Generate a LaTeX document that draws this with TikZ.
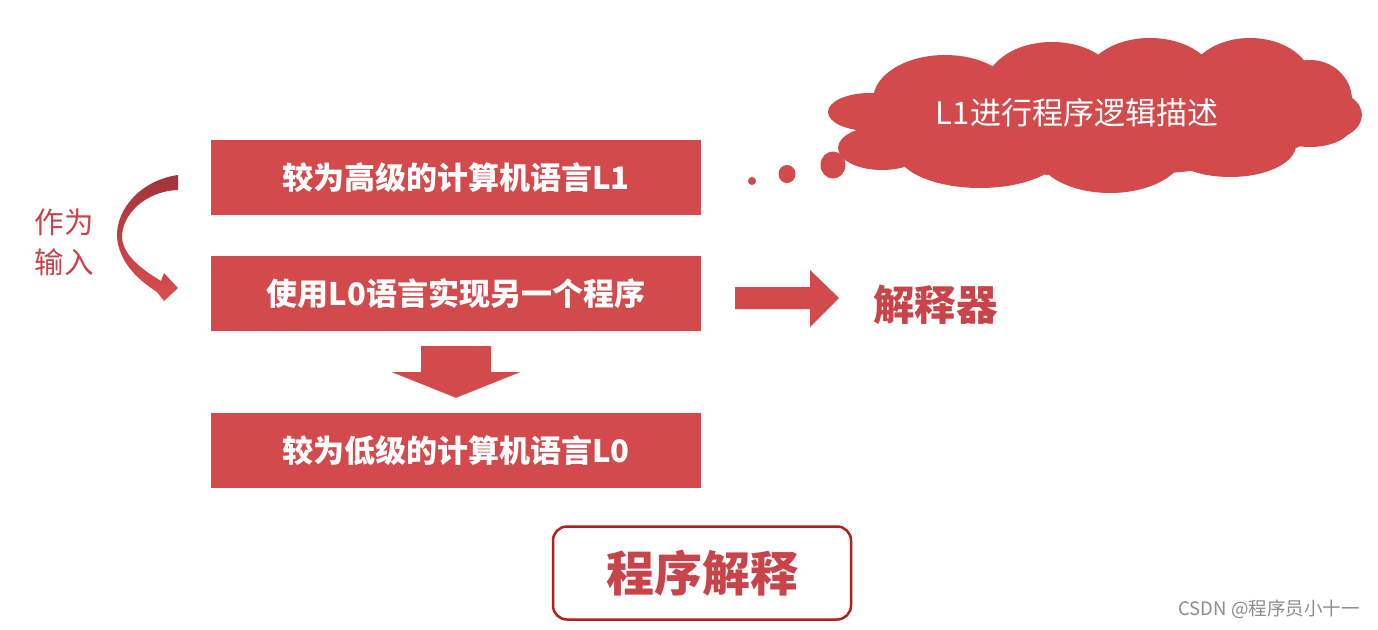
\documentclass[tikz,border=0pt]{standalone}
\usepackage{fontspec}
\setmainfont{Noto Sans CJK SC}
\usetikzlibrary{calc}
\definecolor{boxred}{HTML}{D34A4C}
\definecolor{txtred}{HTML}{C9444A}
\definecolor{darkred}{HTML}{B0201F}
\definecolor{arrdark}{HTML}{A3333A}
\definecolor{arrlight}{HTML}{DA4D50}
\tikzset{
  box/.style={fill=boxred, minimum width=490, minimum height=75, inner sep=0, text=white, font=\fontsize{31}{35}\selectfont\bfseries},
  blockarrow/.style={fill=boxred, draw=none},
  dot/.style={fill=boxred, draw=none},
}
\begin{document}
\begin{tikzpicture}[x=1pt,y=-1pt]
\useasboundingbox (0,0) rectangle (1378,629);
\fill[white] (0,0) rectangle (1378,629);
% boxes
\node[box] (b1) at (456,177.5) {较为高级的计算机语言L1};
\node[box] (b2) at (456,293.5) {使用L0语言实现另一个程序};
\node[box] (b3) at (456,450.5) {较为低级的计算机语言L0};
% down block arrow
\coordinate (dtop) at ($(b2.south)+(0,15)$);
\coordinate (dtip) at ($(b3.north)+(0,-15)$);
\fill[blockarrow] ($(dtop)+(-35,0)$) -- ($(dtop)+(35,0)$) -- ($(dtop)+(35,26)$) -- ($(dtop)+(64,26)$)
  -- (dtip) -- ($(dtop)+(-64,26)$) -- ($(dtop)+(-35,26)$) -- cycle;
% right block arrow
\node[text=txtred, font=\fontsize{41.5}{45}\selectfont\bfseries, inner sep=0] (interp) at (935.5,305) {解释器};
\coordinate (rstart) at (735,298);
\coordinate (rtip) at (839,298);
\fill[blockarrow] ($(rstart)+(0,-11)$) -- ($(rstart)+(75,-11)$) -- ($(rstart)+(75,-28)$) -- (rtip)
  -- ($(rstart)+(75,29)$) -- ($(rstart)+(75,11)$) -- ($(rstart)+(0,11)$) -- cycle;
% cloud (union of ellipses)
\fill[boxred]
  (1095,118) ellipse (235 and 58)
  (945,100) ellipse (72 and 45)
  (1052,86) ellipse (66 and 44)
  (1150,82) ellipse (66 and 44)
  (1250,82) ellipse (62 and 44)
  (1310,100) ellipse (42 and 40)
  (1322,115) ellipse (40 and 26)
  (1310,125) ellipse (42 and 22)
  (1230,145) ellipse (66 and 32)
  (1110,150) ellipse (75 and 43)
  (980,150) ellipse (84 and 38)
  (882,148) ellipse (44 and 22)
  (870,112) ellipse (42 and 19);
\node[text=white, font=\fontsize{31}{35}\selectfont, inner sep=0] (ctext) at (1077,113) {L1进行程序逻辑描述};
\fill[dot] (752,181) circle (4);
\fill[dot] (787,174) ellipse (8.5 and 9);
\fill[dot] (833,165) ellipse (12.5 and 13.5);
% left curved arrow
\node[text=txtred, font=\fontsize{29.5}{40}\selectfont, align=center, inner sep=0] (input) at (64,242) {作为\\输入};
\coordinate (cs) at (178,175);
\shade[top color=arrdark, bottom color=arrlight] (cs) .. controls (142,180) and (116,208) .. (117,237)
  .. controls (119,262) and (138,280) .. (157,292) -- (164,301) -- (178,288) -- (164,273) -- (161,281)
  .. controls (143,270) and (123,256) .. (122,237) .. controls (122,214) and (146,191) .. (178,190) -- cycle;
% title box
\node[draw=darkred, line width=2.5, rounded corners=14, minimum width=298, minimum height=93, text=txtred, font=\fontsize{48}{52}\selectfont\bfseries] (title) at (702,573) {程序解释};
\node[text=black!45, font=\fontsize{18.5}{21}\selectfont, inner sep=0] (wm) at (1269,609) {CSDN @程序员小十一};
\end{tikzpicture}
\end{document}
